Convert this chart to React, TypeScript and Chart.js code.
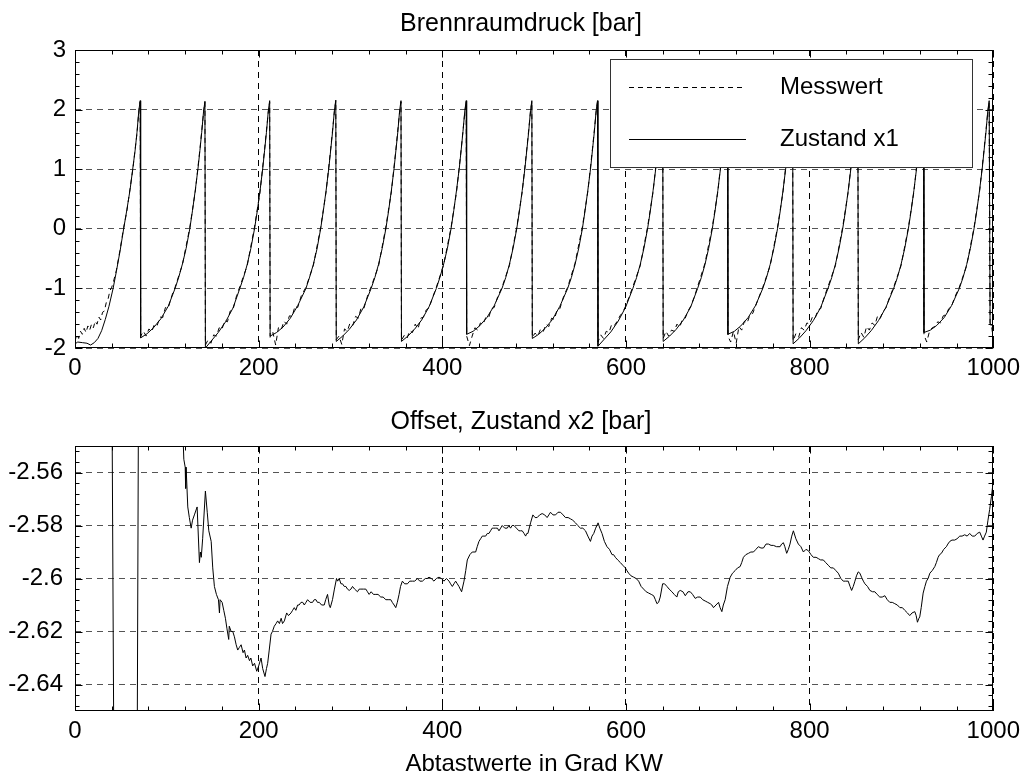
import { useEffect, useRef } from "react";
import { Chart, registerables } from "chart.js";

Chart.register(...registerables);

const FONT = "'Liberation Sans', Arial, Helvetica, sans-serif";

type Pt = [number, number];

// Axis tick values
const xTicks = [0, 200, 400, 600, 800, 1000];
const pressureTicks = [-2, -1, 0, 1, 2, 3];
const offsetTicks = [-2.64, -2.62, -2.6, -2.58, -2.56];
const xMinorStep = 40;
const pressureMinorStep = 0.2;
const offsetMinorStep = 0.004;

// Combustion chamber pressure, measured [deg CA, bar]
const messwert: Pt[] = [
  [0, -1.88], [2, -1.77], [4, -1.84], [6, -1.72], [8, -1.77], [10, -1.67], [12, -1.74], [14, -1.63], [16, -1.7], [18, -1.6],
  [20, -1.66], [22, -1.55], [24, -1.6], [26, -1.48], [28, -1.53], [30, -1.4], [32, -1.38], [34, -1.24], [36, -1.18], [38, -1.04],
  [40, -0.98], [42, -0.88], [45, -0.7], [49, -0.36], [53, 0.02], [56.5, 0.3], [60, 0.68], [63, 1.0], [65.5, 1.34], [67.5, 1.6],
  [69.5, 1.97], [71, 2.13],
  [71.5, -1.8], [74.5, -1.72], [77.5, -1.8], [80.5, -1.68], [83.5, -1.73], [86.5, -1.6], [89.5, -1.62], [92.5, -1.48], [95.5, -1.49],
  [98.5, -1.32], [101.5, -1.33], [105.5, -1.12], [109, -0.98], [117, -0.6], [125, 0.02], [131, 0.63], [136, 1.33], [140, 1.95], [141.5, 2.12],
  [142, -1.95], [145, -1.86], [148, -1.92], [151, -1.78], [154, -1.8], [157, -1.66], [160, -1.69], [163, -1.54], [166, -1.56],
  [169, -1.38], [172, -1.36], [176, -1.12], [179.5, -0.97], [187.5, -0.62], [195.5, 0.03], [201.5, 0.62], [206.5, 1.34], [210.5, 1.96], [212, 2.13],
  [212.5, -1.82], [215.5, -1.74], [218.5, -1.95], [221.5, -1.66], [224.5, -1.7], [227.5, -1.55], [230.5, -1.6], [233.5, -1.46], [236.5, -1.47],
  [239.5, -1.3], [242.5, -1.32], [246.5, -1.12], [251.5, -0.98], [259.5, -0.62], [267.5, 0.02], [273.5, 0.63], [278.5, 1.35], [282.5, 1.97], [284, 2.14],
  [284.5, -1.86], [287.5, -1.8], [290.5, -1.94], [293.5, -1.68], [296.5, -1.72], [299.5, -1.58], [302.5, -1.62], [305.5, -1.47], [308.5, -1.5],
  [311.5, -1.33], [314.5, -1.34], [318.5, -1.13], [322.5, -0.97], [330.5, -0.63], [338.5, 0.03], [344.5, 0.62], [349.5, 1.34], [353.5, 1.96], [355, 2.13],
  [355.5, -1.87], [358.5, -1.79], [361.5, -1.84], [364.5, -1.71], [367.5, -1.74], [370.5, -1.6], [373.5, -1.68], [376.5, -1.5], [379.5, -1.48],
  [382.5, -1.36], [385.5, -1.33], [389.5, -1.15], [393.5, -0.98], [401.5, -0.6], [409.5, 0.02], [415.5, 0.62], [420.5, 1.33], [424.5, 1.96], [426, 2.13],
  [426.5, -1.8], [429.5, -1.96], [432.5, -1.8], [435.5, -1.66], [438.5, -1.7], [441.5, -1.58], [444.5, -1.6], [447.5, -1.48], [450.5, -1.49],
  [453.5, -1.34], [456.5, -1.32], [460.5, -1.13], [465, -0.98], [473, -0.62], [481, 0.02], [487, 0.62], [492, 1.34], [496, 1.96], [497.5, 2.13],
  [498, -1.82], [501, -1.75], [504, -1.8], [507, -1.68], [510, -1.72], [513, -1.6], [516, -1.64], [519, -1.5], [522, -1.52],
  [525, -1.36], [528, -1.34], [532, -1.14], [536.5, -0.98], [544.5, -0.58], [552.5, 0.03], [558.5, 0.63], [563.5, 1.34], [567.5, 1.96], [569, 2.13],
  [569.5, -1.9], [572.5, -1.78], [575.5, -1.84], [578.5, -1.72], [581.5, -1.74], [584.5, -1.6], [587.5, -1.62], [590.5, -1.55], [593.5, -1.46],
  [596.5, -1.4], [599.5, -1.3], [603.5, -1.14], [607.5, -0.97], [615.5, -0.62], [623.5, 0.03], [629.5, 0.62], [634.5, 1.34], [638.5, 1.96], [640, 2.13],
  [640.5, -1.84], [643.5, -1.72], [646.5, -1.8], [649.5, -1.7], [652.5, -1.72], [655.5, -1.6], [658.5, -1.65], [661.5, -1.52], [664.5, -1.5],
  [667.5, -1.38], [670.5, -1.3], [674.5, -1.14], [678, -0.97], [686, -0.58], [694, 0.03], [700, 0.62], [705, 1.34], [709, 1.96], [710.5, 2.13],
  [711, -1.8], [714, -1.9], [717, -1.72], [720, -1.92], [723, -1.64], [726, -1.7], [729, -1.55], [732, -1.58], [735, -1.44],
  [738, -1.42], [741, -1.3], [745, -1.14], [749, -0.98], [757, -0.62], [765, 0.02], [771, 0.62], [776, 1.34], [780, 1.96], [781.5, 2.13],
  [782, -1.88], [785, -1.76], [788, -1.82], [791, -1.66], [794, -1.7], [797, -1.58], [800, -1.6], [803, -1.48], [806, -1.5],
  [809, -1.36], [812, -1.34], [816, -1.14], [820, -0.97], [828, -0.62], [836, 0.03], [842, 0.62], [847, 1.34], [851, 1.96], [852.5, 2.13],
  [853, -1.86], [856, -1.74], [859, -1.82], [862, -1.64], [865, -1.7], [868, -1.58], [871, -1.62], [874, -1.46], [877, -1.5],
  [880, -1.38], [883, -1.33], [887, -1.15], [891.5, -0.98], [899.5, -0.62], [907.5, 0.02], [913.5, 0.62], [918.5, 1.34], [922.5, 1.96], [924, 2.13],
  [924.5, -1.78], [927.5, -1.9], [930.5, -1.72], [933.5, -1.66], [936.5, -1.64], [939.5, -1.56], [942.5, -1.58], [945.5, -1.46], [948.5, -1.44],
  [951.5, -1.34], [954.5, -1.3], [958.5, -1.13], [963, -0.98], [971, -0.62], [979, 0.02], [985, 0.62], [990, 1.34], [994, 1.96], [995.5, 2.12],
  [996.5, -1.58], [998, -1.62], [1000, -1.85],
];

// Estimated state x1 (pressure) [deg CA, bar]
const zustandX1: Pt[] = [
  [0, -1.93], [3, -1.9], [8, -1.91], [13, -1.92], [17, -1.95], [21, -1.91], [25, -1.84], [29, -1.71], [33, -1.52], [37, -1.3],
  [41.5, -1.0], [45, -0.72], [49, -0.38], [53, 0], [56.5, 0.32], [60, 0.66], [63, 1.02], [65.5, 1.32], [67.5, 1.62], [69.5, 1.98], [71, 2.15],
  [71.5, -1.83], [78.5, -1.76], [85.5, -1.66], [93.5, -1.51], [101.5, -1.3], [109, -1.0], [113, -0.81], [117, -0.59], [121, -0.33],
  [125, 0], [128, 0.31], [131, 0.65], [134, 1.02], [136, 1.31], [138, 1.62], [140, 1.97], [141.5, 2.14],
  [142, -2.0], [149, -1.87], [156, -1.74], [164, -1.56], [172, -1.33], [179.5, -1.0], [183.5, -0.82], [187.5, -0.6], [191.5, -0.33],
  [195.5, 0], [198.5, 0.3], [201.5, 0.64], [204.5, 1.02], [206.5, 1.32], [208.5, 1.62], [210.5, 1.98], [212, 2.15],
  [212.5, -1.8], [219.5, -1.74], [226.5, -1.65], [234.5, -1.5], [242.5, -1.29], [251.5, -1.0], [255.5, -0.81], [259.5, -0.6], [263.5, -0.34],
  [267.5, 0], [270.5, 0.31], [273.5, 0.65], [276.5, 1.03], [278.5, 1.33], [280.5, 1.63], [282.5, 1.99], [284, 2.16],
  [284.5, -1.89], [291.5, -1.8], [298.5, -1.69], [306.5, -1.53], [314.5, -1.31], [322.5, -1.0], [326.5, -0.82], [330.5, -0.6], [334.5, -0.33],
  [338.5, 0], [341.5, 0.3], [344.5, 0.64], [347.5, 1.02], [349.5, 1.32], [351.5, 1.62], [353.5, 1.98], [355, 2.15],
  [355.5, -1.89], [362.5, -1.8], [369.5, -1.69], [377.5, -1.53], [385.5, -1.31], [393.5, -1.0], [397.5, -0.81], [401.5, -0.59], [405.5, -0.33],
  [409.5, 0], [412.5, 0.31], [415.5, 0.65], [418.5, 1.02], [420.5, 1.32], [422.5, 1.63], [424.5, 1.98], [426, 2.15],
  [426.5, -1.77], [433.5, -1.72], [440.5, -1.63], [448.5, -1.49], [456.5, -1.29], [465, -1.0], [469, -0.82], [473, -0.6], [477, -0.33],
  [481, 0], [484, 0.3], [487, 0.64], [490, 1.02], [492, 1.32], [494, 1.62], [496, 1.98], [497.5, 2.15],
  [498, -1.84], [505, -1.77], [512, -1.67], [520, -1.52], [528, -1.3], [536.5, -1.0], [540.5, -0.82], [544.5, -0.6], [548.5, -0.33],
  [552.5, 0], [555.5, 0.31], [558.5, 0.65], [561.5, 1.02], [563.5, 1.32], [565.5, 1.62], [567.5, 1.98], [569, 2.15],
  [569.5, -1.97], [576.5, -1.85], [583.5, -1.73], [591.5, -1.55], [599.5, -1.32], [607.5, -1.0], [611.5, -0.82], [615.5, -0.6], [619.5, -0.33],
  [623.5, 0], [626.5, 0.3], [629.5, 0.64], [632.5, 1.02], [634.5, 1.32], [636.5, 1.62], [638.5, 1.98], [640, 2.15],
  [640.5, -1.89], [647.5, -1.8], [654.5, -1.69], [662.5, -1.53], [670.5, -1.31], [678, -1.0], [682, -0.82], [686, -0.6], [690, -0.33],
  [694, 0], [697, 0.3], [700, 0.64], [703, 1.02], [705, 1.32], [707, 1.62], [709, 1.98], [710.5, 2.15],
  [711, -1.77], [718, -1.72], [725, -1.63], [733, -1.49], [741, -1.29], [749, -1.0], [753, -0.82], [757, -0.6], [761, -0.33],
  [765, 0], [768, 0.3], [771, 0.64], [774, 1.02], [776, 1.32], [778, 1.62], [780, 1.98], [781.5, 2.15],
  [782, -1.93], [789, -1.83], [796, -1.71], [804, -1.54], [812, -1.32], [820, -1.0], [824, -0.82], [828, -0.6], [832, -0.33],
  [836, 0], [839, 0.3], [842, 0.64], [845, 1.02], [847, 1.32], [849, 1.62], [851, 1.98], [852.5, 2.15],
  [853, -1.93], [860, -1.83], [867, -1.71], [875, -1.54], [883, -1.32], [891.5, -1.0], [895.5, -0.82], [899.5, -0.6], [903.5, -0.33],
  [907.5, 0], [910.5, 0.3], [913.5, 0.64], [916.5, 1.02], [918.5, 1.32], [920.5, 1.62], [922.5, 1.98], [924, 2.15],
  [924.5, -1.74], [931.5, -1.7], [938.5, -1.62], [946.5, -1.49], [954.5, -1.29], [963, -1.0], [967, -0.82], [971, -0.6], [975, -0.33],
  [979, 0], [982, 0.3], [985, 0.64], [988, 1.02], [990, 1.32], [992, 1.62], [994, 1.98], [995.5, 2.15],
  [996.5, -1.61], [1000, -1.62],
];

// Estimated state x2 (pressure offset) [deg CA, bar]
const zustandX2: Pt[] = [
  [0, -2.42], [15, -2.44], [30, -2.47], [39.5, -2.48], [44, -2.78], [55, -2.9], [66.5, -2.78], [70, -2.45], [85, -2.42], [100, -2.47],
  [112, -2.51], [116.5, -2.535], [118.5, -2.555], [120, -2.558], [120.5, -2.566], [121, -2.558], [122.8, -2.573], [124.5, -2.577],
  [126.5, -2.581], [128, -2.578], [130, -2.576], [133, -2.573], [135.5, -2.594], [136.5, -2.59], [137.5, -2.592], [139, -2.585],
  [142, -2.567], [144, -2.575], [145.7, -2.582], [148.3, -2.586], [150, -2.596], [151.8, -2.603], [154, -2.606], [156.2, -2.608],
  [157.3, -2.613], [158, -2.608], [160.2, -2.609], [162, -2.612], [163.8, -2.615], [165.5, -2.619], [167.4, -2.623], [168, -2.618],
  [170, -2.62], [171.8, -2.62], [173.6, -2.622], [175.5, -2.625], [177.2, -2.627], [179, -2.626], [180.9, -2.625], [183, -2.628],
  [184.5, -2.627], [186.3, -2.63], [188, -2.629], [190, -2.631], [191.5, -2.63], [193.5, -2.633], [195.5, -2.632], [197.9, -2.635],
  [200, -2.633], [202.6, -2.63], [204.4, -2.634], [206.9, -2.637], [208.5, -2.634], [209.8, -2.632], [211.5, -2.627], [213.5, -2.621],
  [215, -2.62], [217, -2.618], [219, -2.617], [220.7, -2.616], [222.6, -2.617], [224.5, -2.615], [226, -2.617], [228, -2.616],
  [230.5, -2.613], [232.5, -2.614], [235.2, -2.613], [237, -2.612], [238.8, -2.611], [240.5, -2.612], [242.4, -2.61], [244, -2.61],
  [246.1, -2.609], [248, -2.609], [249.7, -2.61], [251.5, -2.609], [253.3, -2.608], [256, -2.609], [258.7, -2.609], [260.5, -2.608],
  [262.4, -2.608], [264, -2.609], [266, -2.609], [268.5, -2.61], [271.4, -2.61], [273, -2.608], [275, -2.606], [276.8, -2.61],
  [278, -2.611], [280.4, -2.608], [282.5, -2.604], [284.8, -2.6], [286, -2.601], [287.7, -2.6], [289.6, -2.602], [291.3, -2.602],
  [293.2, -2.603], [295, -2.603], [296.7, -2.604], [298.6, -2.6045], [300.5, -2.604], [302.2, -2.603], [304.5, -2.604], [307.6, -2.605],
  [309.5, -2.604], [311.3, -2.604], [314, -2.604], [316.7, -2.604], [318.5, -2.605], [320.3, -2.606], [322.5, -2.605], [325, -2.606],
  [327.6, -2.606], [330, -2.606], [333, -2.607], [335.5, -2.607], [338.5, -2.608], [341, -2.608], [343.9, -2.608], [345.5, -2.609],
  [347.5, -2.61], [349.3, -2.611], [351, -2.609], [352.9, -2.606], [354.5, -2.603], [356.5, -2.601], [359, -2.602], [362, -2.602],
  [364.5, -2.601], [367.4, -2.601], [370, -2.601], [372.8, -2.6], [375.5, -2.601], [378.3, -2.601], [381.5, -2.6], [383.5, -2.6],
  [385.5, -2.5995], [388, -2.6], [390.9, -2.601], [393.5, -2.6], [396.4, -2.5995], [399, -2.6], [401.8, -2.601], [404.5, -2.6],
  [407.3, -2.601], [409, -2.602], [410.9, -2.603], [412.7, -2.602], [414.5, -2.601], [416.3, -2.602], [418.1, -2.603], [419.5, -2.604],
  [421, -2.605], [423.6, -2.601], [425.5, -2.597], [427.2, -2.593], [430, -2.591], [432.6, -2.59], [434.5, -2.59], [436.3, -2.59],
  [438, -2.588], [439.9, -2.586], [441.7, -2.585], [443.5, -2.584], [445.3, -2.584], [447.2, -2.584], [449, -2.583], [450.8, -2.583],
  [452.5, -2.582], [454.3, -2.581], [456, -2.581], [458, -2.581], [460, -2.581], [461.7, -2.582], [463.5, -2.581], [465.2, -2.58],
  [468, -2.581], [470.7, -2.581], [472.5, -2.58], [474.3, -2.581], [476, -2.58], [478, -2.58], [480.7, -2.581], [483.4, -2.582],
  [485, -2.582], [487, -2.582], [489, -2.583], [490.7, -2.584], [492, -2.583], [493.2, -2.583], [496.1, -2.579], [498.6, -2.576],
  [501, -2.577], [503.3, -2.577], [506, -2.576], [508.7, -2.5755], [511.5, -2.576], [514.1, -2.577], [516, -2.576], [517.8, -2.575],
  [520.5, -2.576], [523.3, -2.576], [526, -2.575], [528.7, -2.575], [531.5, -2.576], [534.1, -2.577], [537, -2.577], [539.6, -2.5775],
  [542, -2.578], [545, -2.579], [547.5, -2.58], [550.4, -2.581], [553, -2.581], [555.9, -2.582], [558.5, -2.584], [561.3, -2.586],
  [563, -2.584], [564.9, -2.583], [567, -2.581], [569.6, -2.579], [571.5, -2.581], [573.9, -2.583], [576.5, -2.586], [579.3, -2.588],
  [582, -2.589], [584.8, -2.591], [586.5, -2.591], [588.4, -2.592], [591, -2.593], [593.9, -2.594], [596.5, -2.595], [599.3, -2.596],
  [601, -2.597], [602.9, -2.598], [605.5, -2.599], [608.4, -2.5995], [611, -2.6], [613.8, -2.601], [616.5, -2.603], [619.2, -2.604],
  [622, -2.605], [624.7, -2.6055], [627.5, -2.606], [630.1, -2.6065], [632, -2.608], [633.7, -2.6095], [635.5, -2.609], [637.3, -2.607],
  [639.9, -2.602], [642, -2.602], [644.6, -2.603], [647, -2.604], [650, -2.605], [652.5, -2.606], [655.4, -2.607], [657, -2.605],
  [659.1, -2.6045], [662, -2.605], [664.6, -2.6065], [667.5, -2.605], [670, -2.605], [672.5, -2.606], [675.4, -2.6075], [678, -2.607],
  [680.9, -2.607], [683.5, -2.608], [686.3, -2.6085], [689, -2.609], [691.7, -2.6095], [693.5, -2.61], [695.3, -2.611], [698, -2.61],
  [700.8, -2.609], [702.5, -2.611], [704.4, -2.6125], [706, -2.61], [708, -2.608], [710.5, -2.603], [713.5, -2.5995], [716, -2.598],
  [718.9, -2.597], [721.5, -2.596], [724.3, -2.5955], [726, -2.594], [727.9, -2.592], [730.5, -2.591], [733.4, -2.5905], [736, -2.59],
  [738.8, -2.59], [741.5, -2.589], [744.2, -2.588], [747, -2.5885], [749.7, -2.5885], [752.5, -2.587], [755.1, -2.587], [758, -2.5875],
  [760.5, -2.5875], [764, -2.588], [767.8, -2.588], [769.5, -2.587], [771.4, -2.5865], [773, -2.588], [775, -2.5905], [776.8, -2.589],
  [778.6, -2.587], [780.5, -2.584], [782.3, -2.582], [785, -2.585], [787.7, -2.587], [790.5, -2.588], [793.2, -2.59], [796, -2.589],
  [798.6, -2.5895], [801.5, -2.591], [804, -2.592], [807, -2.592], [809.5, -2.5925], [812, -2.593], [814.9, -2.593], [817.5, -2.594],
  [820.3, -2.595], [823, -2.596], [825.8, -2.596], [828.5, -2.597], [831.2, -2.598], [834, -2.6], [836.6, -2.601], [839, -2.601],
  [842, -2.601], [844, -2.603], [845.7, -2.6045], [847.5, -2.603], [849.3, -2.601], [851, -2.599], [852.9, -2.5975], [854.7, -2.598],
  [856.5, -2.5995], [858.5, -2.601], [860.2, -2.602], [863, -2.603], [865.6, -2.6045], [868.5, -2.605], [871, -2.605], [873.5, -2.606],
  [876.4, -2.607], [879, -2.607], [881.9, -2.6065], [884.5, -2.608], [887.3, -2.609], [890, -2.609], [892.7, -2.6095], [895.5, -2.61],
  [898.3, -2.611], [901, -2.611], [903.6, -2.612], [906.5, -2.613], [909, -2.614], [911.5, -2.613], [914.5, -2.6125], [916, -2.614],
  [917.4, -2.6165], [919, -2.615], [919.9, -2.6145], [921.5, -2.611], [923.6, -2.6055], [925.5, -2.603], [927.2, -2.601], [929, -2.6],
  [930.9, -2.598], [933.5, -2.597], [936.3, -2.5955], [938, -2.594], [939.9, -2.592], [941.5, -2.591], [943.5, -2.5905], [946, -2.589],
  [948.9, -2.588], [950.5, -2.587], [952.6, -2.586], [955, -2.5855], [958, -2.5855], [960.5, -2.585], [963.5, -2.584], [966, -2.584],
  [968.9, -2.5835], [971.5, -2.584], [974.3, -2.583], [977, -2.584], [979.8, -2.584], [982.5, -2.583], [985.2, -2.5825], [987, -2.584],
  [988.8, -2.5855], [990.5, -2.584], [992.4, -2.5825], [994.2, -2.578], [996, -2.574], [998, -2.569], [999.7, -2.564],
];

const toXY = (pts: Pt[]) => pts.map(([x, y]) => ({ x, y }));
const fmt = (v: number | string) => String(+Number(v).toFixed(3));

// Closed frame with inward major/minor tick marks on all four sides
const frameTicks = {
  id: "frameTicks",
  afterDatasetsDraw(chart: any, _args: any, opts: any) {
    const { ctx, chartArea: a } = chart;
    const xs = chart.scales.x;
    const ys = chart.scales.y;
    const L = Math.round(a.left) + 0.5;
    const R = Math.round(a.right) - 0.5;
    const T = Math.round(a.top) + 0.5;
    const B = Math.round(a.bottom) - 0.5;
    const isMajor = (v: number, list: number[]) => list.some((m) => Math.abs(m - v) < 1e-7);
    const steps = (min: number, max: number, step: number, anchor: number) => {
      const out: number[] = [];
      const start = anchor - Math.floor((anchor - min) / step + 1e-9) * step;
      for (let i = 0; start + i * step <= max + 1e-9; i++) out.push(start + i * step);
      return out;
    };
    ctx.save();
    ctx.strokeStyle = "#000";
    ctx.lineWidth = 1;
    ctx.setLineDash([]);
    ctx.beginPath();
    for (const v of steps(xs.min, xs.max, opts.xMinor, opts.xMajor[0])) {
      const p = Math.round(xs.getPixelForValue(v)) + 0.5;
      const len = isMajor(v, opts.xMajor) ? 7 : 4;
      ctx.moveTo(p, B);
      ctx.lineTo(p, B - len);
      ctx.moveTo(p, T);
      ctx.lineTo(p, T + len);
    }
    for (const v of steps(ys.min, ys.max, opts.yMinor, opts.yMajor[0])) {
      const p = Math.round(ys.getPixelForValue(v)) + 0.5;
      const len = isMajor(v, opts.yMajor) ? 7 : 4;
      ctx.moveTo(L, p);
      ctx.lineTo(L + len, p);
      ctx.moveTo(R, p);
      ctx.lineTo(R - len, p);
    }
    ctx.stroke();
    ctx.strokeRect(L, T, R - L, B - T);
    ctx.restore();
  },
};

// Boxed legend in the upper right of the plot area
const legendBox = {
  id: "legendBox",
  afterDraw(chart: any) {
    const { ctx, chartArea: a } = chart;
    const right = Math.round(a.right) - 21;
    const left = right - 362;
    const top = Math.round(a.top) + 9;
    const bottom = top + 108;
    ctx.save();
    ctx.fillStyle = "#fff";
    ctx.fillRect(left, top, right - left, bottom - top);
    ctx.strokeStyle = "#333";
    ctx.lineWidth = 1;
    ctx.setLineDash([]);
    ctx.strokeRect(left + 0.5, top + 0.5, right - left, bottom - top);
    const rows = [top + 28, top + 80];
    chart.data.datasets.forEach((ds: any, i: number) => {
      const y = rows[i] + 0.5;
      ctx.strokeStyle = "#000";
      ctx.setLineDash(ds.borderDash || []);
      ctx.beginPath();
      ctx.moveTo(left + 19, y);
      ctx.lineTo(left + 136, y);
      ctx.stroke();
      ctx.setLineDash([]);
      ctx.fillStyle = "#000";
      ctx.font = `24px ${FONT}`;
      ctx.textAlign = "left";
      ctx.textBaseline = "middle";
      ctx.fillText(ds.label, left + 170, rows[i]);
    });
    ctx.restore();
  },
};

const tickFont = { family: FONT, size: 24, lineHeight: 1.2 };

// Right margin is negative so the full-width titles centre a little right of the page middle
const PAD_RIGHT = -16;

function xScale(height: number, withTitle: boolean) {
  return {
    type: "linear" as const,
    min: 0,
    max: 1000,
    afterBuildTicks: (s: any) => {
      s.ticks = xTicks.map((value) => ({ value }));
    },
    afterFit: (s: any) => {
      s.height = height;
    },
    ticks: { font: tickFont, color: "#000", padding: 6, maxRotation: 0, autoSkip: false, callback: fmt },
    grid: { color: "#000", lineWidth: 1, drawTicks: false },
    border: { display: false, dash: [6, 5] },
    title: withTitle
      ? {
          display: true,
          text: "Abtastwerte in Grad KW",
          color: "#000",
          font: { family: FONT, size: 24, lineHeight: 1 },
          padding: { top: 0, bottom: -2 },
        }
      : { display: false },
  };
}

function yScale(min: number, max: number, ticks: number[], padding: number) {
  return {
    type: "linear" as const,
    position: "left" as const,
    min,
    max,
    afterBuildTicks: (s: any) => {
      s.ticks = ticks.map((value) => ({ value }));
    },
    afterFit: (s: any) => {
      s.width = 75;
    },
    ticks: { font: tickFont, color: "#000", padding, autoSkip: false, callback: fmt },
    grid: { color: "#555", lineWidth: 1, drawTicks: false },
    border: { display: false, dash: [6, 5] },
  };
}

// Empty right-hand spacer axis so the plot ends at the same place in both panels
const rightSpacer = {
  type: "linear" as const,
  position: "right" as const,
  display: true,
  afterFit: (s: any) => {
    s.width = 30 - PAD_RIGHT;
  },
  ticks: { display: false },
  grid: { display: false },
  border: { display: false },
};

function titleOpts(text: string, top: number, bottom: number) {
  return {
    display: true,
    text,
    color: "#000",
    font: { family: FONT, size: 25, weight: "normal" as const, lineHeight: 1.2 },
    padding: { top, bottom },
  };
}

export default function App() {
  const topRef = useRef<HTMLCanvasElement>(null);
  const bottomRef = useRef<HTMLCanvasElement>(null);

  useEffect(() => {
    const pressure = new Chart(topRef.current!, {
      type: "line",
      data: {
        datasets: [
          {
            label: "Messwert",
            data: toXY(messwert),
            borderColor: "#000",
            borderWidth: 1,
            borderDash: [5, 4],
            pointRadius: 0,
            fill: false,
            yAxisID: "y",
          },
          {
            label: "Zustand x1",
            data: toXY(zustandX1),
            borderColor: "#000",
            borderWidth: 1,
            pointRadius: 0,
            fill: false,
            yAxisID: "y",
          },
        ],
      },
      options: {
        animation: false,
        responsive: false,
        devicePixelRatio: 1,
        parsing: false,
        layout: { padding: { left: 0, right: PAD_RIGHT, top: 0, bottom: 0 } },
        scales: {
          x: xScale(42, false),
          y: yScale(-2, 3, pressureTicks, 9),
          y2: rightSpacer,
        },
        plugins: {
          legend: { display: false },
          tooltip: { enabled: false },
          title: titleOpts("Brennraumdruck [bar]", 9, 11),
          frameTicks: { xMinor: xMinorStep, yMinor: pressureMinorStep, xMajor: xTicks, yMajor: pressureTicks },
        } as any,
      },
      plugins: [frameTicks, legendBox],
    });

    const offset = new Chart(bottomRef.current!, {
      type: "line",
      data: {
        datasets: [
          {
            label: "Zustand x2",
            data: toXY(zustandX2),
            borderColor: "#000",
            borderWidth: 1,
            pointRadius: 0,
            fill: false,
            yAxisID: "y",
          },
        ],
      },
      options: {
        animation: false,
        responsive: false,
        devicePixelRatio: 1,
        parsing: false,
        layout: { padding: { left: 0, right: PAD_RIGHT, top: 0, bottom: 0 } },
        scales: {
          x: xScale(63, true),
          y: yScale(-2.65, -2.55, offsetTicks, 12),
          y2: rightSpacer,
        },
        plugins: {
          legend: { display: false },
          tooltip: { enabled: false },
          title: titleOpts("Offset, Zustand x2 [bar]", 17, 9),
          frameTicks: { xMinor: xMinorStep, yMinor: offsetMinorStep, xMajor: xTicks, yMajor: offsetTicks },
        } as any,
      },
      plugins: [frameTicks],
    });

    return () => {
      pressure.destroy();
      offset.destroy();
    };
  }, []);

  return (
    <div
      style={{
        position: "absolute",
        left: 0,
        top: 0,
        width: 1026,
        height: 774,
        overflow: "hidden",
        background: "#fff",
      }}
    >
      <canvas ref={topRef} width={1026} height={390} style={{ position: "absolute", left: 0, top: 0 }} />
      <canvas ref={bottomRef} width={1026} height={384} style={{ position: "absolute", left: 0, top: 390 }} />
    </div>
  );
}
